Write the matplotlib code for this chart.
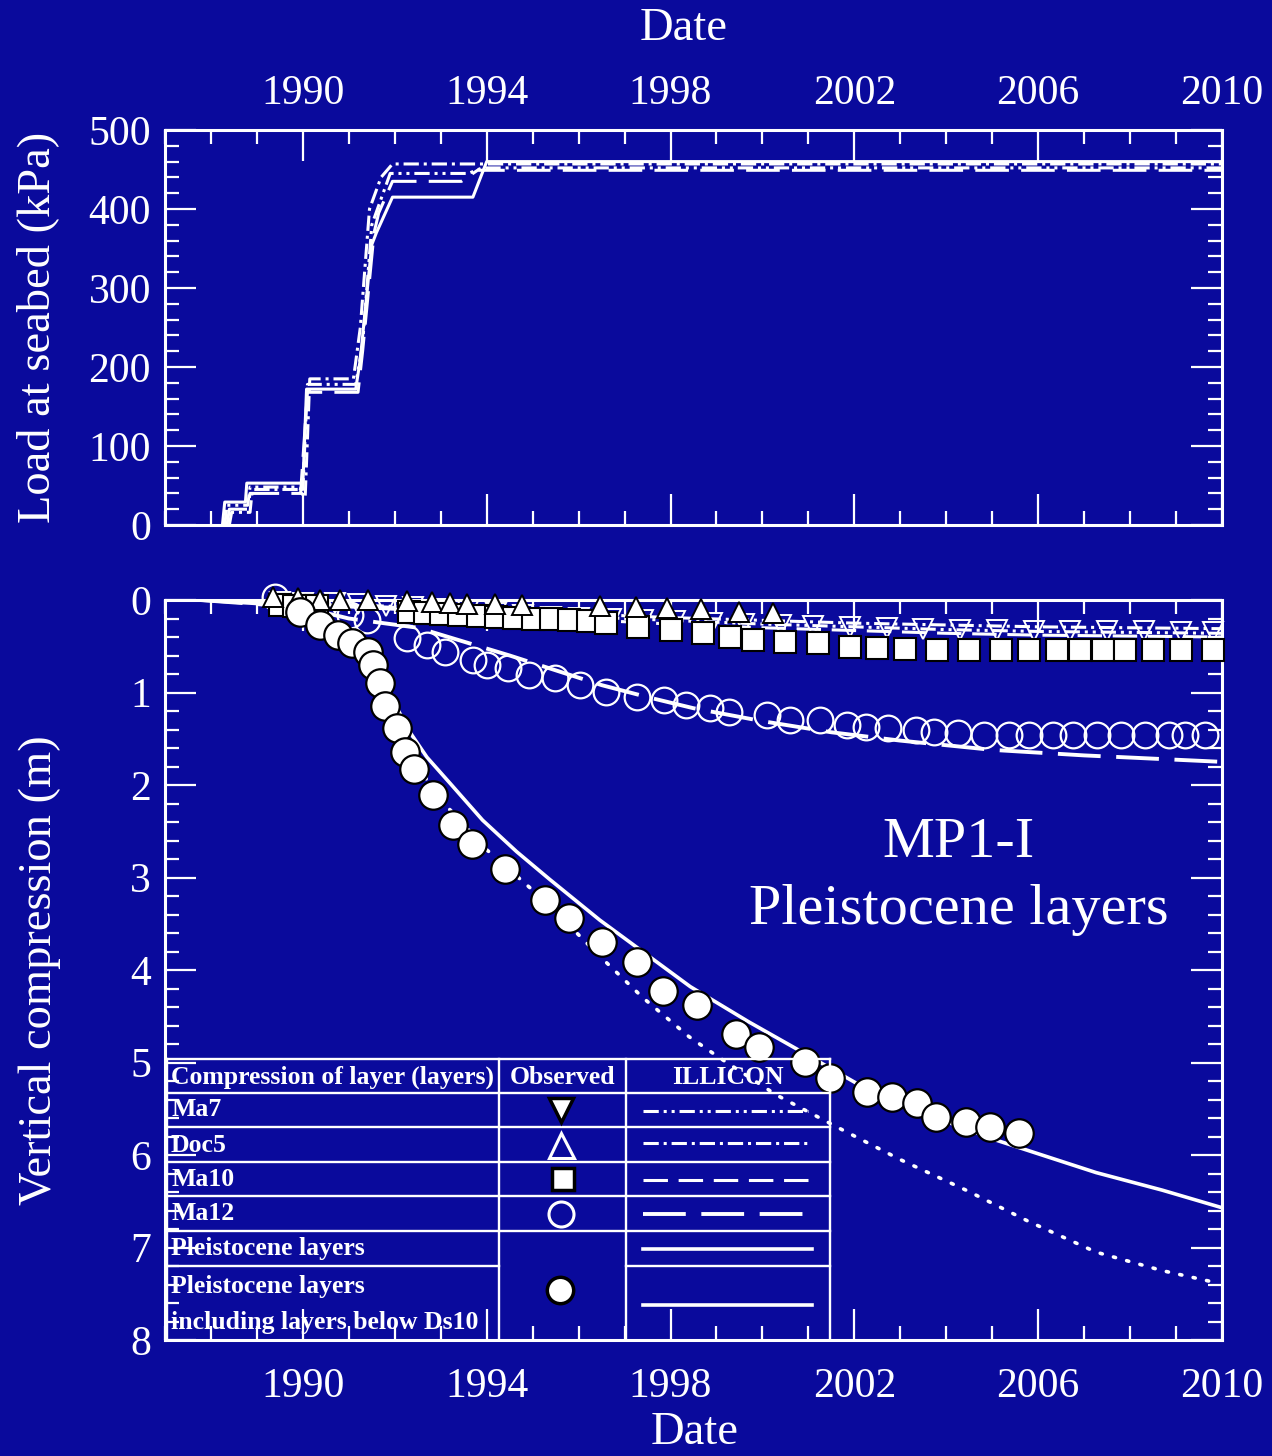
import matplotlib
matplotlib.use("Agg")
import matplotlib.pyplot as plt
from matplotlib.ticker import FixedLocator, MultipleLocator
from matplotlib.lines import Line2D

# ---------------- data ----------------
tick_years = [1990, 1994, 1998, 2002, 2006, 2010]

# Load at seabed (kPa) – staged fill history at four locations
load_solid_t = [1988.25, 1988.3, 1988.75, 1988.78, 1990.0, 1990.08, 1991.15, 1991.25, 1991.5, 1991.6, 1991.95, 1993.7, 1994.0, 2010.0]
load_solid_v = [0, 29, 29, 53, 53, 172, 172, 210, 355, 370, 415, 415, 460, 460]
load_dash_t = [1988.35, 1988.4, 1988.8, 1988.85, 1989.8, 1989.95, 1990.1, 1991.2, 1991.3, 1991.55, 1991.65, 1991.95, 1993.45, 1993.8, 2010.0]
load_dash_v = [0, 20, 20, 40, 40, 40, 168, 168, 220, 370, 395, 435, 435, 449, 449]
load_dashdot_t = [1988.4, 1988.45, 1988.85, 1988.9, 1989.9, 1990.05, 1990.15, 1991.1, 1991.25, 1991.45, 1991.7, 1991.95, 1993.85, 2010.0]
load_dashdot_v = [0, 16, 16, 45, 45, 35, 185, 185, 250, 400, 440, 457, 457, 457]
load_dd_t = [1988.3, 1988.35, 1988.8, 1988.85, 1989.85, 1990.0, 1990.1, 1991.15, 1991.3, 1991.5, 1991.9, 1993.6, 1993.9, 2010.0]
load_dd_v = [0, 25, 25, 48, 48, 45, 178, 178, 230, 380, 445, 445, 452, 452]

# Observed vertical compression (m)
ma7_t = [1989.5, 1990.0, 1990.7, 1991.2, 1991.8, 1992.4, 1993.0, 1993.6, 1994.2, 1994.8, 1995.4, 1996.0,
         1996.7, 1997.4, 1998.1, 1998.9, 1999.6, 2000.4, 2001.1, 2001.9, 2002.7, 2003.5, 2004.3, 2005.1,
         2005.9, 2006.7, 2007.5, 2008.3, 2009.1, 2009.8]
ma7_v = [0.02, 0.03, 0.03, 0.04, 0.06, 0.08, 0.10, 0.12, 0.14, 0.16, 0.18, 0.19,
         0.20, 0.22, 0.23, 0.25, 0.26, 0.27, 0.28, 0.29, 0.30, 0.31, 0.32, 0.32,
         0.33, 0.33, 0.34, 0.34, 0.35, 0.35]

doc5_t = [1989.35, 1989.9, 1990.37, 1990.8, 1991.41, 1992.26, 1992.8, 1993.2, 1993.57, 1994.17, 1994.76,
          1996.46, 1997.24, 1997.93, 1998.67, 1999.5, 2000.22]
doc5_v = [-0.03, -0.02, 0.0, 0.0, 0.0, 0.01, 0.02, 0.03, 0.04, 0.04, 0.05,
          0.06, 0.08, 0.09, 0.10, 0.13, 0.14]

ma10_t = [1989.5, 1989.8, 1990.1, 1990.3, 1992.3, 1992.65, 1993.0, 1993.4, 1993.8, 1994.2, 1994.6, 1995.0,
          1995.4, 1995.8, 1996.2, 1996.6, 1997.3, 1998.0, 1998.7, 1999.3, 1999.8, 2000.5, 2001.2, 2001.9,
          2002.5, 2003.1, 2003.8, 2004.5, 2005.2, 2005.8, 2006.4, 2006.9, 2007.4, 2007.9, 2008.5, 2009.1, 2009.8]
ma10_v = [0.05, 0.06, 0.07, 0.07, 0.13, 0.14, 0.15, 0.16, 0.17, 0.18, 0.19, 0.20,
          0.21, 0.22, 0.23, 0.25, 0.29, 0.32, 0.36, 0.40, 0.43, 0.45, 0.47, 0.51,
          0.52, 0.53, 0.54, 0.54, 0.54, 0.54, 0.54, 0.54, 0.54, 0.54, 0.54, 0.54, 0.54]

ma12_t = [1989.4, 1991.02, 1991.39, 1992.26, 1992.7, 1993.09, 1993.7, 1994.0, 1994.46, 1994.93, 1995.48,
          1996.02, 1996.59, 1997.28, 1997.85, 1998.33, 1998.85, 1999.28, 2000.09, 2000.61, 2001.26,
          2001.83, 2002.26, 2002.74, 2003.35, 2003.74, 2004.26, 2004.83, 2005.37, 2005.8, 2006.33,
          2006.76, 2007.28, 2007.8, 2008.33, 2008.85, 2009.2, 2009.63]
ma12_v = [-0.03, 0.16, 0.22, 0.41, 0.49, 0.56, 0.65, 0.70, 0.74, 0.81, 0.84,
          0.92, 0.99, 1.05, 1.08, 1.14, 1.17, 1.21, 1.24, 1.30, 1.30,
          1.35, 1.37, 1.38, 1.41, 1.43, 1.44, 1.46, 1.46, 1.46, 1.46,
          1.46, 1.46, 1.46, 1.46, 1.46, 1.46, 1.46]

pleis_t = [1989.93, 1990.37, 1990.76, 1991.07, 1991.41, 1991.52, 1991.67, 1991.78, 1992.04, 1992.22,
           1992.41, 1992.83, 1993.26, 1993.67, 1994.39, 1995.26, 1995.8, 1996.5, 1997.28, 1997.83,
           1998.57, 1999.43, 1999.93, 2000.93, 2001.48, 2002.28, 2002.83, 2003.37, 2003.78, 2004.43,
           2004.96, 2005.59]
pleis_v = [0.13, 0.27, 0.38, 0.46, 0.56, 0.70, 0.90, 1.15, 1.38, 1.64,
           1.83, 2.11, 2.43, 2.64, 2.91, 3.24, 3.44, 3.70, 3.91, 4.23,
           4.38, 4.69, 4.83, 4.99, 5.17, 5.32, 5.37, 5.44, 5.59, 5.64,
           5.70, 5.76]

# ILLICON calculations (m)
calc_ma7_t = [1987.76, 1990, 1992, 1994, 1996, 1998, 2000, 2002, 2004, 2006, 2008, 2010]
calc_ma7_v = [0, 0.04, 0.08, 0.13, 0.18, 0.22, 0.26, 0.29, 0.32, 0.34, 0.35, 0.36]
calc_doc5_t = [1987.76, 1990, 1992, 1994, 1996, 1998, 2000, 2002, 2004, 2006, 2008, 2010]
calc_doc5_v = [0, 0.03, 0.07, 0.11, 0.15, 0.19, 0.22, 0.25, 0.27, 0.29, 0.30, 0.31]
calc_ma10_t = [1987.76, 1990, 1992, 1994, 1996, 1998, 2000, 2002, 2004, 2006, 2008, 2010]
calc_ma10_v = [0, 0.05, 0.10, 0.16, 0.21, 0.26, 0.30, 0.33, 0.36, 0.38, 0.39, 0.40]
calc_ma12_t = [1987.76, 1990.0, 1991.0, 1992.5, 1993.5, 1994.5, 1995.5, 1996.5, 1997.5, 1998.5,
               2000.0, 2001.5, 2003.0, 2005.0, 2007.0, 2010.0]
calc_ma12_v = [0, 0.08, 0.20, 0.30, 0.45, 0.60, 0.76, 0.92, 1.05, 1.17,
               1.31, 1.43, 1.52, 1.62, 1.68, 1.75]
calc_pleis_t = [1987.76, 1989.07, 1989.93, 1990.8, 1991.46, 1991.9, 1992.33, 1992.7, 1993.2, 1993.91,
                1994.65, 1995.37, 1996.46, 1997.5, 1998.43, 1999.7, 2000.91, 2002.17, 2003.63, 2005.09,
                2007.26, 2008.7, 2010.0]
calc_pleis_v = [0, 0.04, 0.13, 0.32, 0.65, 1.03, 1.43, 1.70, 1.98, 2.38,
                2.72, 3.02, 3.46, 3.84, 4.18, 4.56, 4.90, 5.26, 5.57, 5.84,
                6.19, 6.38, 6.57]
calc_deep_t = [1987.76, 1989.0, 1989.93, 1990.8, 1991.46, 1991.9, 1992.3, 1992.8, 1993.26, 1994.0,
               1995.26, 1996.46, 1997.4, 1998.4, 1999.04, 2000.3, 2001.63, 2003.0, 2004.43,
               2005.8, 2007.26, 2008.7, 2009.87]
calc_deep_v = [0, 0.03, 0.13, 0.35, 0.67, 1.10, 1.55, 2.05, 2.30, 2.70,
               3.25, 3.85, 4.30, 4.72, 4.94, 5.35, 5.70, 6.05, 6.38,
               6.72, 7.05, 7.25, 7.38]

legend_rows = ["Ma7", "Doc5", "Ma10", "Ma12", "Pleistocene layers"]

# ---------------- styling ----------------
BG = "#0A0A9C"
FG = "white"
SERIF = ["Liberation Serif", "DejaVu Serif"]
plt.rcParams["font.family"] = SERIF

LS_DD = (0, (5, 1.6, 1, 1.6, 1, 1.6))
LS_DOT_DASH = (0, (5, 1.6, 1, 1.6))
LS_SHORT = (0, (8, 3.5))
LS_LONG = (0, (11, 4))
LW = 2.2

fig = plt.figure(figsize=(12.72, 14.56), dpi=100, facecolor=BG)
W, H = 1272.0, 1456.0


def px_axes(x0, y0, x1, y1):
    return fig.add_axes([x0 / W, 1 - y1 / H, (x1 - x0) / W, (y1 - y0) / H])


ax1 = px_axes(165, 130, 1222, 525)
ax2 = px_axes(165, 600, 1222, 1340)

for ax in (ax1, ax2):
    ax.set_facecolor(BG)
    for sp in ax.spines.values():
        sp.set_color(FG)
        sp.set_linewidth(2.2)
    ax.set_xlim(1987, 2010)
    ax.xaxis.set_major_locator(FixedLocator(tick_years))
    ax.xaxis.set_minor_locator(MultipleLocator(1))
    ax.tick_params(which="both", direction="in", colors=FG, top=True, bottom=True,
                   left=True, right=True, labelsize=30)
    ax.tick_params(which="major", length=22, width=1.6)
    ax.tick_params(which="minor", length=10, width=1.6)

# ---- upper panel: load history ----
ax1.set_ylim(0, 500)
ax1.yaxis.set_major_locator(MultipleLocator(100))
ax1.yaxis.set_minor_locator(MultipleLocator(20))
ax1.tick_params(axis="x", labeltop=True, labelbottom=False, pad=12)
ax1.tick_params(axis="y", pad=10)
ax1.plot(load_dd_t, load_dd_v, color=FG, lw=LW, ls=LS_DD)
ax1.plot(load_dashdot_t, load_dashdot_v, color=FG, lw=LW, ls=LS_DOT_DASH)
ax1.plot(load_dash_t, load_dash_v, color=FG, lw=LW, ls=LS_LONG)
ax1.plot(load_solid_t, load_solid_v, color=FG, lw=LW, ls="-")

# ---- lower panel: compression ----
ax2.set_ylim(8, 0)
ax2.yaxis.set_major_locator(MultipleLocator(1))
ax2.yaxis.set_minor_locator(MultipleLocator(0.2))
ax2.tick_params(axis="x", labeltop=False, labelbottom=True, pad=20)
ax2.tick_params(axis="y", pad=10)

ax2.plot(calc_ma7_t, calc_ma7_v, color=FG, lw=LW, ls=LS_DD, zorder=2)
ax2.plot(calc_doc5_t, calc_doc5_v, color=FG, lw=LW, ls=LS_DOT_DASH, zorder=2)
ax2.plot(calc_ma10_t, calc_ma10_v, color=FG, lw=LW, ls=LS_SHORT, zorder=2)
ax2.plot(calc_ma12_t, calc_ma12_v, color=FG, lw=LW + 0.6, ls=LS_LONG, zorder=2)
ax2.plot(calc_pleis_t, calc_pleis_v, color=FG, lw=LW + 0.4, ls="-", zorder=2)
ax2.plot(calc_deep_t, calc_deep_v, color=FG, lw=2.6, ls=(0, (0.6, 3.2)),
         dash_capstyle="round", zorder=2)

ax2.plot(ma12_t, ma12_v, ls="none", marker="o", ms=18.5, mfc="none", mec=FG, mew=1.6,
         clip_on=False, zorder=3)
ax2.plot(ma7_t, ma7_v, ls="none", marker="v", ms=14, mfc="none", mec=FG, mew=1.4,
         clip_on=False, zorder=3)
ax2.plot(ma10_t, ma10_v, ls="none", marker="s", ms=16, mfc=FG, mec="black", mew=1.5,
         clip_on=False, zorder=4)
ax2.plot(doc5_t, doc5_v, ls="none", marker="^", ms=15, mfc=FG, mec="black", mew=1.4,
         clip_on=False, zorder=4)
ax2.plot(pleis_t, pleis_v, ls="none", marker="o", ms=20.5, mfc=FG, mec="black", mew=1.6,
         clip_on=False, zorder=5)

# site annotation
ax2.text(0.751, 0.672, "MP1-I", transform=ax2.transAxes, ha="center", va="center",
         color=FG, fontsize=42)
ax2.text(0.751, 0.581, "Pleistocene layers", transform=ax2.transAxes, ha="center",
         va="center", color=FG, fontsize=42)

# axis titles
fig.text(684 / W, 1 - 29 / H, "Date", ha="center", va="center", color=FG, fontsize=33.5)
fig.text(695 / W, 1 - 1433 / H, "Date", ha="center", va="center", color=FG, fontsize=33.5)
fig.text(38 / W, 1 - 327 / H, "Load at seabed (kPa)", ha="center", va="center",
         rotation=90, color=FG, fontsize=33.5)
fig.text(40 / W, 1 - 970 / H, "Vertical compression (m)", ha="center", va="center",
         rotation=90, color=FG, fontsize=33.5)

# ---- key table inside the lower panel (axes-fraction geometry) ----
T = ax2.transAxes
AX_X0, AX_W, AX_Y1, AX_H = 165.0, 1057.0, 1340.0, 740.0


def fx(px):
    return (px - AX_X0) / AX_W


def fy(py):
    return (AX_Y1 - py) / AX_H


def seg(x0, y0, x1, y1, **kw):
    style = dict(color=FG, lw=1.7, transform=T, clip_on=False, zorder=6)
    style.update(kw)
    ax2.add_line(Line2D([fx(x0), fx(x1)], [fy(y0), fy(y1)], **style))


tx0, c1, c2, tx1 = 167, 499, 626, 830
row_lines = [1059, 1093, 1127, 1162, 1196, 1231, 1266]
for yy in row_lines:
    if yy == 1266:
        seg(tx0, yy, c1, yy)
        seg(c2, yy, tx1, yy)
    else:
        seg(tx0, yy, tx1, yy)
for xx in (tx0, c1, c2, tx1):
    seg(xx, 1059, xx, 1340)

tkw = dict(transform=T, color=FG, fontsize=18.5, fontweight="bold", va="center", zorder=7)
ax2.text(fx(171), fy(1077), "Compression of layer (layers)", ha="left", **tkw)
ax2.text(fx(563), fy(1077), "Observed", ha="center", **tkw)
ax2.text(fx(728), fy(1077), "ILLICON", ha="center", **tkw)
row_centers = [1110, 1145, 1180, 1214, 1249]
for name, yc in zip(legend_rows, row_centers):
    ax2.text(fx(171), fy(yc), name, ha="left", **tkw)
ax2.text(fx(171), fy(1287), "Pleistocene layers", ha="left", **tkw)
ax2.text(fx(171), fy(1322), "including layers below Ds10", ha="left", **tkw)

mkw = dict(transform=T, clip_on=False, zorder=7, ls="none")
ax2.plot([fx(561)], [fy(1110)], marker="v", ms=17, mfc=FG, mec="black", mew=2.5, **mkw)
ax2.plot([fx(561)], [fy(1145)], marker="^", ms=18, mfc="none", mec=FG, mew=2.2, **mkw)
ax2.plot([fx(563)], [fy(1179)], marker="s", ms=16, mfc=FG, mec="black", mew=2.5, **mkw)
ax2.plot([fx(561)], [fy(1214)], marker="o", ms=18, mfc="none", mec=FG, mew=2.2, **mkw)
ax2.plot([fx(560)], [fy(1290)], marker="o", ms=19, mfc=FG, mec="black", mew=2.5, **mkw)

lx0, lx1 = 643, 808
seg(lx0, 1111, lx1, 1111, lw=LW, ls=LS_DD)
seg(lx0, 1143, lx1, 1143, lw=LW, ls=LS_DOT_DASH)
seg(lx0, 1180, lx1, 1180, lw=LW, ls=LS_SHORT)
seg(lx0, 1214, lx1, 1214, lw=LW + 0.6, ls=LS_LONG)
seg(lx0, 1249, lx1 + 4, 1249, lw=LW + 0.4)
seg(lx0, 1305, lx1 + 4, 1305, lw=LW + 0.4)

fig.savefig("out.png", dpi=100, facecolor=BG)
